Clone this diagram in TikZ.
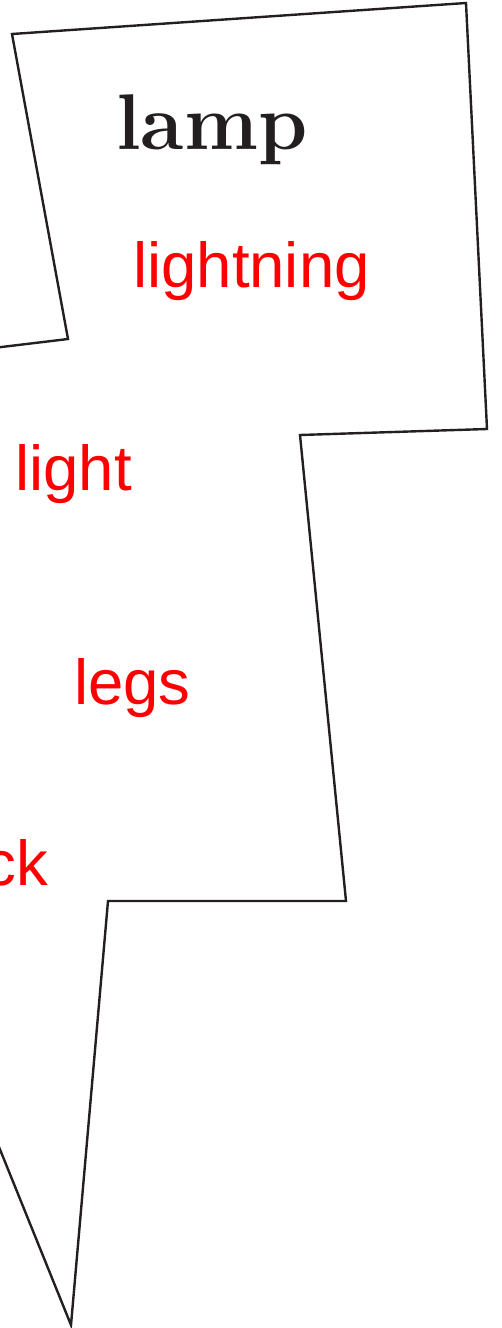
\documentclass[tikz,border=0pt]{standalone}
\usepackage{fontspec}
\newfontfamily\labelfont{Liberation Sans}
\definecolor{inkgray}{HTML}{231F20}

\begin{document}
\begin{tikzpicture}[
    x=1pt, y=-1pt,
    bolt/.style={draw=inkgray, line width=2.4pt, line join=miter},
    title/.style={inner sep=0pt, text=inkgray, font=\fontsize{79}{83}\selectfont\bfseries},
    part/.style={inner sep=0pt, text=red, font=\labelfont\fontsize{63.5}{67}\selectfont}
]
\clip (0,0) rectangle (501,1328);
\useasboundingbox (0,0) rectangle (501,1328);

% bolt outline, runs off the left edge
\draw[bolt] (-40,352) -- (68,339) -- (12,34) -- (466,3) -- (487,429) -- (300,435)
    -- (346,901) -- (108,901) -- (71,1325) -- (-20,1100);

\node[title, anchor=base west] (lamp) at (116,149) {lamp};
\node[part, anchor=base west] (lightning) at (133,287) {lightning};
\node[part, anchor=base west] (light) at (15,490) {light};
\node[part, anchor=base west] (legs) at (74,704) {legs};
\node[part, anchor=base east] (ck) at (48,885) {ck};
\end{tikzpicture}
\end{document}
